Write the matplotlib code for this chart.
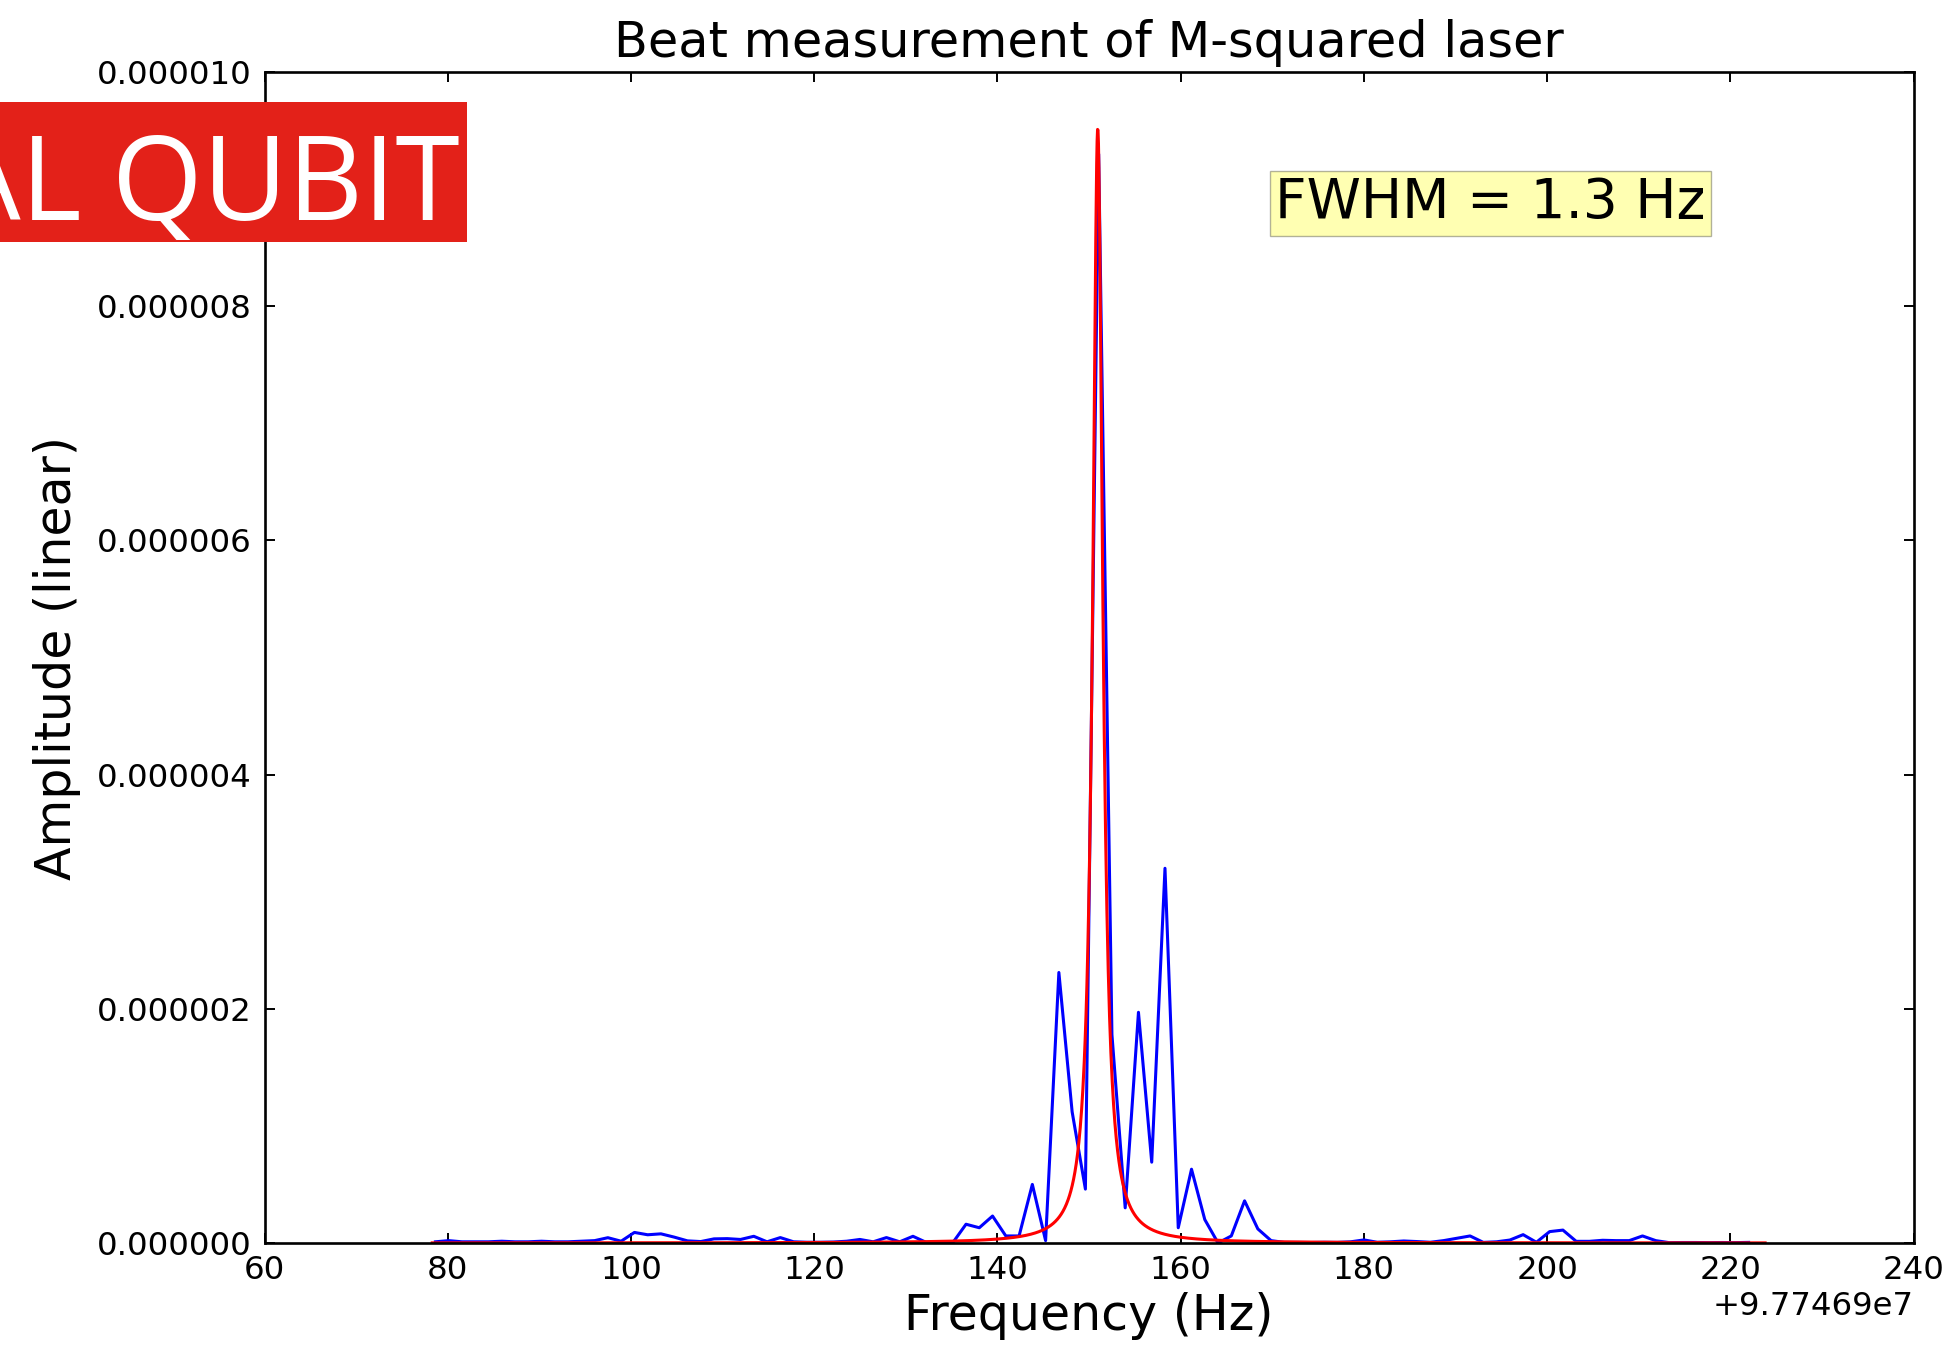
import numpy as np
import matplotlib
matplotlib.use("Agg")
import matplotlib.pyplot as plt
from matplotlib.patches import Rectangle
from matplotlib.ticker import ScalarFormatter, FormatStrFormatter, MultipleLocator

# frequency offset of the beat note (Hz)
f_offset = 97746900.0

# measured spectrum: 100 FFT bins, first/last bin relative to offset
bin_first = 78.65
bin_last = 222.0
# amplitude per bin, in units of 1e-6
amp_meas = [
    0.01, 0.02, 0.01, 0.01, 0.01, 0.015, 0.01, 0.01, 0.015, 0.01,
    0.01, 0.015, 0.02, 0.045, 0.015, 0.09, 0.07, 0.078, 0.05, 0.018,
    0.012, 0.035, 0.037, 0.03, 0.057, 0.01, 0.046, 0.01, 0.006, 0.006,
    0.008, 0.015, 0.03, 0.01, 0.046, 0.01, 0.057, 0.005, 0.003, 0.002,
    0.16, 0.13, 0.23, 0.06, 0.06, 0.50, 0.02, 2.31, 1.12, 0.46,
    9.30, 1.78, 0.30, 1.97, 0.69, 3.20, 0.13, 0.63, 0.20, 0.00,
    0.06, 0.36, 0.12, 0.02, 0.005, 0.005, 0.004, 0.006, 0.005, 0.01,
    0.026, 0.006, 0.01, 0.017, 0.012, 0.006, 0.02, 0.04, 0.06, 0.005,
    0.01, 0.025, 0.071, 0.006, 0.097, 0.11, 0.014, 0.014, 0.023, 0.02,
    0.02, 0.06, 0.02, 0.003, 0.004, 0.004, 0.003, 0.004, 0.003, 0.005,
]

# lorentzian fit parameters
fit_center = 150.95
fit_amp = 9.52e-6
fit_fwhm = 1.3
fit_range = (78.3, 223.8)

f_meas = f_offset + np.linspace(bin_first, bin_last, len(amp_meas))
a_meas = np.array(amp_meas) * 1e-6

f_fit = np.linspace(fit_range[0], fit_range[1], 3000)
a_fit = fit_amp / (1 + ((f_fit - fit_center) / (fit_fwhm / 2)) ** 2)
f_fit = f_offset + f_fit

plt.rcParams["font.family"] = "DejaVu Sans"
fig = plt.figure(figsize=(19.47, 13.49), dpi=100)
ax = fig.add_axes([0.1359, 0.0786, 0.9828 - 0.1359, 0.9466 - 0.0786])

ax.plot(f_meas, a_meas, color="b", lw=2.2)
ax.plot(f_fit, a_fit, color="r", lw=2.2)

ax.set_xlim(f_offset + 60, f_offset + 240)
ax.set_ylim(0, 1e-5)
ax.xaxis.set_major_locator(MultipleLocator(20))
ax.xaxis.set_major_formatter(ScalarFormatter(useOffset=f_offset))
ax.set_yticks(np.arange(0, 1.01e-5, 2e-6))
ax.yaxis.set_major_formatter(FormatStrFormatter("%.6f"))

ax.tick_params(direction="in", top=True, right=True, length=7.5, width=1.4,
               labelsize=23.3, pad=9)
ax.xaxis.get_offset_text().set_fontsize(23.3)
for sp in ax.spines.values():
    sp.set_linewidth(1.9)

ax.set_title("Beat measurement of M-squared laser", fontsize=35.6, pad=11)
ax.set_xlabel("Frequency (Hz)", fontsize=35.3, labelpad=4)
ax.set_ylabel("Amplitude (linear)", fontsize=35.3, labelpad=12)

ax.text(f_offset + 170.3, 8.75e-6, "FWHM = 1.3 Hz", fontsize=39.5,
        bbox=dict(facecolor="yellow", alpha=0.3))

# red banner in the top left corner (text runs off the left edge)
fig.add_artist(Rectangle((0, 0.8206), 0.2398, 0.1039, transform=fig.transFigure,
                         facecolor="#e32119", edgecolor="none"))
fig.text(0.236, 0.837, "AL QUBIT", color="white", fontsize=84,
         family="Open Sans", ha="right", va="baseline")

fig.savefig("out.png", dpi=100)
